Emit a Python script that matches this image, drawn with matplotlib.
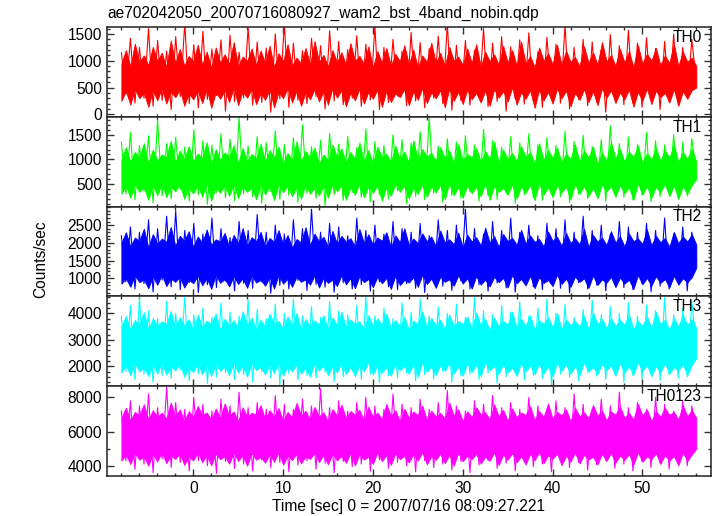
import numpy as np
import matplotlib
matplotlib.use('Agg')
import matplotlib.pyplot as plt

plt.rcParams['font.family'] = ['Liberation Sans', 'DejaVu Sans']

# time range of the light curve (sec), samples evenly spaced
t_first, t_last = -8.0, 56.0

# single spikes: peak / trough values, counts/sec
th0 = [1150, 380, 1420, 210, 1250, 300, 1600, 150, 1380, 260, 1180, 90, 1450, 330, 1700, 200,
       1300, 120, 1550, 280, 1220, 350, 1390, 60, 1480, 240, 1160, 310, 1620, 170, 1350, 220,
       1240, 40, 1500, 290, 1700, 130, 1330, 260, 1190, 200, 1420, 330, 1280, 100, 1560, 250,
       1360, 180, 1210, 300, 1470, 150, 1310, 270, 1650, 90, 1250, 220, 1400, 340, 1180, 160,
       1530, 250, 1340, 120, 1230, 300, 1460, 200, 1700, 80, 1290, 260, 1380, 170, 1200, 320,
       1600, 140, 1330, 240, 1450, 60, 1260, 290, 1390, 190, 1520, 250, 1170, 130, 1440, 310,
       1310, 210, 1680, 100, 1250, 280, 1400, 160, 1350, 230, 1200, 40, 1490, 300, 1280, 180,
       1570, 220, 1330, 130, 1430, 260, 1230, 90, 1360, 240, 1500, 180, 1250, 300, 1400, 600]
th1 = [1350, 300, 1550, 180, 1280, 350, 1480, 120, 1800, 260, 1320, 200, 1450, 380, 1250, 150,
       1600, 280, 1380, 90, 1290, 330, 1520, 220, 1410, 160, 1850, 300, 1270, 240, 1460, 110,
       1340, 350, 1580, 190, 1300, 270, 1440, 130, 1700, 310, 1260, 210, 1390, 60, 1530, 280,
       1310, 170, 1470, 330, 1240, 230, 1620, 140, 1360, 290, 1280, 200, 1500, 360, 1400, 100,
       1330, 250, 1560, 180, 1850, 310, 1270, 130, 1420, 270, 1350, 210, 1480, 340, 1290, 150,
       1610, 260, 1380, 190, 1250, 320, 1460, 110, 1340, 280, 1520, 220, 1300, 170, 1440, 330,
       1280, 240, 1570, 120, 1360, 300, 1490, 200, 1260, 260, 1400, 150, 1680, 310, 1320, 230,
       1450, 180, 1300, 280, 1550, 140, 1380, 250, 1290, 320, 1500, 200, 1350, 260, 1420, 700]
th2 = [2200, 900, 2450, 700, 2300, 850, 2650, 620, 2400, 950, 2750, 760, 2900, 680, 2350, 880,
       2550, 600, 2250, 820, 2700, 740, 2400, 920, 2150, 650, 2600, 860, 2350, 720, 2800, 900,
       2300, 580, 2500, 800, 2250, 700, 2650, 940, 2400, 660, 2950, 830, 2300, 750, 2550, 610,
       2450, 880, 2200, 700, 2700, 820, 2350, 640, 2500, 900, 2250, 760, 2600, 680, 2400, 850,
       2300, 720, 2550, 600, 2200, 890, 2650, 780, 2350, 660, 2500, 930, 2950, 700, 2400, 820,
       2250, 640, 2600, 870, 2350, 730, 2700, 610, 2300, 900, 2500, 760, 2200, 680, 2550, 850,
       2400, 720, 2650, 590, 2300, 880, 2750, 700, 2350, 810, 2500, 650, 2250, 920, 2600, 740,
       2450, 680, 2300, 860, 2550, 620, 2350, 780, 2700, 700, 2250, 880, 2450, 650, 2300, 1500]
th3 = [3900, 1800, 4300, 1500, 4600, 1700, 4100, 1400, 3800, 1650, 4450, 1550, 4000, 1850, 4650, 1450,
       3950, 1700, 4200, 1350, 3850, 1600, 4400, 1750, 4050, 1500, 3900, 1680, 4500, 1400, 4150, 1800,
       3800, 1550, 4350, 1300, 4000, 1720, 4550, 1480, 3900, 1650, 4250, 1560, 3850, 1780, 4450, 1420,
       4100, 1600, 3950, 1850, 4300, 1500, 4650, 1700, 3900, 1380, 4200, 1650, 3800, 1550, 4400, 1750,
       4050, 1450, 4550, 1680, 3900, 1520, 4250, 1800, 4000, 1400, 4350, 1620, 3850, 1700, 4600, 1500,
       4100, 1750, 3950, 1350, 4300, 1600, 4050, 1820, 4450, 1480, 3900, 1660, 4200, 1540, 4550, 1300,
       4000, 1700, 4350, 1580, 3850, 1450, 4150, 1780, 4500, 1620, 3950, 1500, 4250, 1700, 4000, 1400,
       4400, 1640, 3900, 1520, 4300, 1750, 4100, 1460, 4600, 1680, 3950, 1550, 4200, 1600, 4450, 2800]
th0123 = [7200, 4300, 7800, 3800, 7500, 4100, 8200, 3600, 7400, 4400, 8600, 3900, 7700, 4200, 7300, 3700,
          8000, 4300, 7600, 4000, 7200, 3550, 7900, 4250, 7500, 3850, 8300, 4100, 7400, 3700, 7700, 4350,
          7300, 3900, 8100, 4200, 7600, 3650, 7300, 4050, 7900, 4300, 7500, 3800, 8500, 4150, 7400, 3600,
          7800, 4250, 7200, 3950, 7700, 4100, 8000, 3700, 7500, 4350, 7300, 3850, 8200, 4200, 7600, 4000,
          7400, 3650, 7900, 4300, 7300, 3900, 7700, 4100, 8400, 3750, 7500, 4250, 7200, 3600, 7800, 4050,
          7600, 4300, 8100, 3850, 7400, 4150, 7700, 3700, 7300, 4250, 8000, 3950, 7500, 4100, 7200, 3650,
          7800, 4350, 7400, 3900, 8200, 4200, 7600, 3750, 7300, 4050, 7900, 4300, 7500, 3850, 8300, 4100,
          7400, 3700, 7700, 4250, 7300, 3900, 8000, 4150, 7600, 3800, 7200, 4300, 7800, 4000, 7500, 5800]

# dense part of each band: upper and lower edge, counts/sec
th0_hi = [950, 1200, 900, 1320, 980, 1100, 920, 1260, 1000, 1150, 880, 1380, 960, 1220, 910, 1090,
          990, 1300, 930, 1170, 870, 1250, 970, 1120, 940, 1350, 900, 1080, 1000, 1230, 920, 1190,
          960, 1280, 880, 1140, 990, 1310, 910, 1060, 950, 1240, 930, 1370, 980, 1110, 890, 1200,
          970, 1160, 920, 1330, 1000, 1090, 940, 1270, 880, 1180, 960, 1240, 910, 1130, 990, 1290,
          930, 1210, 870, 1100, 980, 1340, 950, 1150, 900, 1260, 1000, 1080, 920, 1230, 960, 1310,
          890, 1170, 990, 1120, 930, 1280, 970, 1200, 910, 1360, 950, 1090, 880, 1250, 1000, 1140,
          940, 1300, 920, 1190, 980, 1070, 900, 1270, 960, 1160, 930, 1350, 990, 1110, 910, 1220,
          970, 1180, 880, 1290, 950, 1130, 1000, 1240, 920, 1100, 960, 1320, 900, 1170, 980, 1060, 900]
th0_lo = [250, 430, 180, 470, 300, 400, 140, 450, 260, 490, 200, 420, 320, 460, 160, 390,
          280, 440, 210, 480, 120, 410, 290, 450, 230, 500, 170, 430, 310, 470, 190, 400,
          270, 460, 130, 420, 300, 490, 220, 440, 160, 410, 280, 470, 240, 430, 180, 500,
          310, 450, 150, 400, 260, 480, 200, 420, 290, 460, 140, 440, 230, 390, 320, 470,
          170, 430, 270, 490, 210, 410, 300, 450, 130, 480, 250, 420, 190, 460, 280, 400,
          220, 440, 160, 470, 310, 430, 240, 500, 180, 410, 290, 450, 120, 460, 260, 420,
          200, 480, 300, 440, 150, 400, 270, 470, 230, 430, 170, 490, 310, 450, 210, 410,
          280, 460, 140, 420, 250, 480, 190, 440, 320, 400, 220, 470, 160, 430, 290, 450, 500]
th1_hi = [1000, 1250, 950, 1150, 1040, 1330, 920, 1200, 980, 1100, 1050, 1380, 940, 1180, 1010, 1270,
          960, 1120, 1030, 1350, 910, 1210, 990, 1140, 1050, 1290, 930, 1230, 970, 1110, 1020, 1320,
          950, 1190, 1040, 1260, 920, 1130, 1000, 1370, 960, 1170, 1030, 1240, 910, 1100, 980, 1300,
          1050, 1220, 940, 1150, 1010, 1340, 970, 1190, 920, 1260, 1040, 1120, 950, 1280, 1000, 1160,
          930, 1390, 990, 1210, 1050, 1140, 960, 1250, 1020, 1180, 910, 1310, 980, 1110, 1040, 1230,
          950, 1170, 1010, 1360, 930, 1200, 1000, 1130, 970, 1270, 1050, 1150, 920, 1330, 990, 1190,
          1030, 1240, 940, 1120, 1010, 1300, 960, 1180, 1040, 1260, 910, 1140, 980, 1350, 1020, 1210,
          950, 1160, 1050, 1280, 930, 1120, 1000, 1240, 970, 1190, 1030, 1310, 940, 1150, 1010, 1220, 950]
th1_lo = [300, 460, 220, 500, 340, 430, 180, 480, 270, 510, 230, 450, 350, 490, 200, 420,
          310, 470, 240, 520, 160, 440, 320, 480, 260, 500, 210, 460, 340, 430, 190, 490,
          290, 450, 170, 510, 330, 470, 250, 440, 200, 490, 300, 420, 270, 460, 220, 500,
          350, 480, 180, 430, 280, 510, 230, 450, 320, 470, 160, 440, 260, 500, 340, 460,
          210, 420, 300, 490, 240, 450, 330, 480, 190, 510, 270, 430, 220, 470, 310, 440,
          250, 500, 180, 460, 340, 420, 280, 490, 200, 450, 320, 480, 170, 510, 290, 430,
          230, 470, 330, 440, 190, 500, 300, 460, 250, 420, 210, 490, 350, 450, 240, 480,
          310, 430, 180, 510, 280, 460, 220, 440, 330, 500, 250, 470, 200, 450, 300, 480, 600]
th2_hi = [2000, 2300, 1900, 2150, 2050, 2400, 1870, 2250, 1980, 2120, 2030, 2450, 1920, 2200, 2060, 2330,
          1890, 2180, 2000, 2380, 1950, 2100, 2040, 2280, 1880, 2230, 1990, 2420, 1930, 2160, 2050, 2310,
          1900, 2140, 2020, 2360, 1960, 2220, 1870, 2110, 2010, 2440, 1940, 2260, 2050, 2170, 1890, 2340,
          1980, 2200, 2030, 2130, 1910, 2390, 2000, 2240, 1950, 2150, 2060, 2300, 1880, 2210, 2020, 2410,
          1940, 2120, 1990, 2270, 2050, 2180, 1900, 2350, 2010, 2100, 1960, 2290, 1870, 2230, 2040, 2160,
          1930, 2430, 2000, 2190, 1890, 2250, 2050, 2140, 1950, 2370, 1980, 2210, 2030, 2110, 1900, 2320,
          2060, 2170, 1920, 2280, 2000, 2130, 1960, 2400, 1880, 2220, 2040, 2150, 1940, 2330, 2010, 2190,
          1900, 2260, 2050, 2120, 1970, 2380, 1930, 2200, 2020, 2140, 1890, 2310, 1990, 2180, 2040, 2240, 1950]
th2_lo = [850, 1000, 760, 1080, 890, 970, 720, 1050, 820, 1100, 780, 990, 900, 1040, 740, 960,
          860, 1070, 800, 1010, 700, 1090, 870, 980, 770, 1060, 840, 1000, 730, 1080, 880, 950,
          790, 1030, 710, 1100, 850, 990, 760, 1050, 900, 970, 820, 1080, 740, 1020, 870, 960,
          780, 1090, 830, 1000, 720, 1060, 890, 980, 750, 1040, 860, 1010, 700, 1070, 810, 950,
          880, 1030, 760, 1100, 840, 990, 730, 1050, 900, 970, 790, 1080, 850, 1000, 710, 1060,
          820, 960, 770, 1040, 890, 1010, 740, 1090, 860, 980, 800, 1070, 720, 1030, 870, 950,
          780, 1100, 840, 990, 760, 1050, 900, 1000, 730, 1080, 810, 970, 880, 1040, 750, 1020,
          850, 960, 700, 1090, 830, 1010, 790, 1060, 870, 980, 740, 1070, 820, 1000, 890, 1030, 1300]
th3_hi = [3500, 3900, 3400, 3750, 3580, 4050, 3380, 3820, 3520, 3700, 3600, 4100, 3420, 3860, 3550, 3780,
          3360, 3950, 3480, 3720, 3590, 4000, 3400, 3800, 3530, 3740, 3450, 4080, 3570, 3840, 3380, 3760,
          3510, 3980, 3600, 3710, 3430, 3880, 3550, 4020, 3370, 3790, 3490, 3730, 3580, 3920, 3410, 3850,
          3540, 4060, 3460, 3770, 3600, 3700, 3390, 3940, 3520, 3810, 3570, 4000, 3440, 3750, 3500, 3870,
          3360, 3720, 3590, 4090, 3470, 3830, 3550, 3760, 3400, 3960, 3530, 3700, 3600, 3890, 3420, 4030,
          3560, 3780, 3380, 3840, 3500, 3710, 3580, 4070, 3450, 3800, 3530, 3930, 3370, 3740, 3600, 3860,
          3480, 4010, 3410, 3770, 3560, 3720, 3500, 3900, 3390, 4040, 3590, 3790, 3440, 3830, 3520, 3750,
          3570, 3970, 3400, 3700, 3540, 3880, 3460, 4060, 3600, 3760, 3380, 3820, 3510, 3940, 3550, 3780, 3450]
th3_lo = [1750, 2050, 1650, 2120, 1800, 1980, 1620, 2090, 1720, 2150, 1680, 2000, 1840, 2100, 1600, 1960,
          1780, 2130, 1700, 2030, 1630, 2080, 1820, 1990, 1670, 2140, 1760, 2020, 1610, 2110, 1850, 1970,
          1690, 2060, 1740, 2150, 1640, 2010, 1800, 2090, 1720, 1950, 1600, 2120, 1830, 2040, 1660, 2000,
          1770, 2130, 1700, 1980, 1620, 2070, 1810, 2150, 1680, 2030, 1750, 1960, 1640, 2100, 1840, 2010,
          1710, 2080, 1600, 2140, 1790, 1990, 1670, 2050, 1820, 2120, 1730, 1970, 1650, 2100, 1780, 2040,
          1620, 2150, 1850, 2000, 1700, 2070, 1760, 1950, 1630, 2110, 1800, 2020, 1690, 2090, 1740, 1980,
          1610, 2130, 1830, 2060, 1720, 2000, 1660, 2140, 1790, 1970, 1700, 2080, 1850, 2030, 1640, 2110,
          1770, 1990, 1680, 2150, 1810, 2050, 1620, 2010, 1750, 2120, 1710, 1960, 1840, 2070, 1660, 2040, 2300]
th0123_hi = [6800, 7400, 6650, 7150, 6950, 7600, 6700, 7250, 6880, 7100, 6750, 7700, 6900, 7300, 6600, 7200,
             6850, 7500, 6980, 7120, 6680, 7350, 6800, 7650, 6920, 7180, 6620, 7420, 6870, 7100, 7000, 7550,
             6720, 7250, 6900, 7380, 6640, 7150, 6830, 7680, 6960, 7220, 6700, 7450, 6890, 7130, 6610, 7320,
             6940, 7580, 6780, 7200, 6990, 7280, 6650, 7460, 6860, 7110, 6730, 7620, 6910, 7260, 6600, 7340,
             6820, 7170, 6970, 7520, 6690, 7230, 6880, 7100, 6760, 7700, 6930, 7310, 6620, 7190, 6850, 7430,
             7000, 7140, 6710, 7600, 6900, 7270, 6640, 7360, 6840, 7120, 6980, 7490, 6680, 7210, 6870, 7650,
             6750, 7160, 6950, 7300, 6610, 7400, 6890, 7130, 6790, 7560, 6920, 7240, 6660, 7180, 6990, 7470,
             6810, 7110, 6700, 7630, 6940, 7290, 6620, 7200, 6860, 7390, 6980, 7150, 6720, 7540, 6900, 7250, 6800]
th0123_lo = [4300, 4650, 4100, 4750, 4350, 4550, 4000, 4700, 4250, 4800, 4150, 4600, 4400, 4720, 4050, 4520,
             4320, 4780, 4200, 4640, 4020, 4700, 4380, 4560, 4120, 4760, 4280, 4620, 4000, 4740, 4350, 4500,
             4180, 4680, 4230, 4800, 4060, 4600, 4330, 4720, 4140, 4540, 4400, 4770, 4220, 4630, 4080, 4700,
             4310, 4580, 4170, 4750, 4020, 4660, 4360, 4520, 4110, 4790, 4270, 4610, 4050, 4730, 4390, 4570,
             4190, 4680, 4300, 4800, 4080, 4550, 4340, 4710, 4150, 4640, 4010, 4760, 4260, 4590, 4380, 4700,
             4120, 4530, 4290, 4780, 4040, 4650, 4350, 4740, 4200, 4560, 4070, 4690, 4320, 4800, 4160, 4610,
             4400, 4720, 4030, 4580, 4250, 4770, 4130, 4640, 4370, 4520, 4090, 4700, 4280, 4750, 4180, 4600,
             4340, 4680, 4060, 4790, 4230, 4550, 4390, 4730, 4100, 4620, 4300, 4570, 4020, 4760, 4270, 4660, 5000]

bands = ['TH0', 'TH1', 'TH2', 'TH3', 'TH0123']
series = [th0, th1, th2, th3, th0123]
uppers = [th0_hi, th1_hi, th2_hi, th3_hi, th0123_hi]
lowers = [th0_lo, th1_lo, th2_lo, th3_lo, th0123_lo]
colors = ['#ff0000', '#00ff00', '#0000ff', '#00ffff', '#ff00ff']
ylims = [(-50, 1625), (40, 1860), (490, 3020), (1250, 4640), (3415, 8660)]
yticks = [[0, 500, 1000, 1500], [500, 1000, 1500], [1000, 1500, 2000, 2500],
          [2000, 3000, 4000], [4000, 6000, 8000]]
yminor = [100, 100, 100, 200, 1000]

fig = plt.figure(figsize=(7.17, 5.16), dpi=100)
left, width = 107 / 717, 603.7 / 717
h = 89.7 / 516
top = 1 - 27.3 / 516
fs = 11.2

for i in range(5):
    ax = fig.add_axes([left, top - (i + 1) * h, width, h])
    y = np.array(series[i])
    t = np.linspace(t_first, t_last, len(y))
    t2 = np.linspace(t_first, t_last, len(uppers[i]))
    ax.fill_between(t2, lowers[i], uppers[i], color=colors[i], lw=0.6)
    ax.plot(t, y, color=colors[i], lw=0.8)
    ax.set_xlim(-9.6, 57.6)
    ax.set_ylim(*ylims[i])
    ax.set_xticks([0, 10, 20, 30, 40, 50])
    ax.set_xticks(np.arange(-8, 57, 2), minor=True)
    ax.set_yticks(yticks[i])
    lo_m = np.ceil(ylims[i][0] / yminor[i]) * yminor[i]
    ax.set_yticks(np.arange(lo_m, ylims[i][1], yminor[i]), minor=True)
    ax.tick_params(which='both', direction='in', top=True, right=True,
                   labelsize=fs, color='#333333', width=1)
    ax.tick_params(which='major', length=5)
    ax.tick_params(which='minor', length=2.5)
    for s in ax.spines.values():
        s.set_linewidth(1.1)
        s.set_color('#222222')
    if i < 4:
        ax.tick_params(labelbottom=False)
    ax.text(0.985, 0.97, bands[i], transform=ax.transAxes, ha='right', va='top',
            fontsize=fs)

fig.text(left, 1 - 13 / 516, 'ae702042050_20070716080927_wam2_bst_4band_nobin.qdp',
         ha='left', va='center', fontsize=fs)
fig.text(41 / 717, 1 - 259 / 516, 'Counts/sec', rotation=90, ha='center', va='center',
         fontsize=fs)
fig.text(409 / 717, 1 - 507 / 516, 'Time [sec] 0 = 2007/07/16 08:09:27.221',
         ha='center', va='center', fontsize=fs)

plt.savefig('out.png', dpi=100)
